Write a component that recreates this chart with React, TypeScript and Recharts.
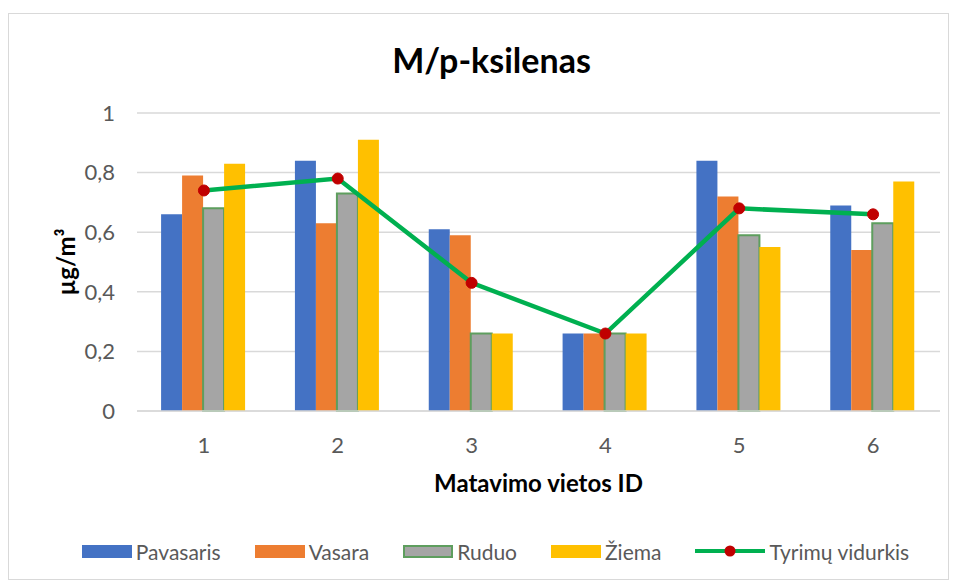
import React from 'react';
import { ComposedChart, Bar, Line, XAxis, YAxis, CartesianGrid, Legend } from 'recharts';

// Matavimo vietos ID
const sites = ['1', '2', '3', '4', '5', '6'];

// Seasonal concentrations, µg/m³
const pavasaris = [0.66, 0.84, 0.61, 0.26, 0.84, 0.69];
const vasara = [0.79, 0.63, 0.59, 0.26, 0.72, 0.54];
const ruduo = [0.68, 0.73, 0.26, 0.26, 0.59, 0.63];
const ziema = [0.83, 0.91, 0.26, 0.26, 0.55, 0.77];
const vidurkis = [0.74, 0.78, 0.43, 0.26, 0.68, 0.66];

const yTicks = [0, 0.2, 0.4, 0.6, 0.8, 1];

const data = sites.map((s, i) => ({
  site: s,
  pavasaris: pavasaris[i],
  vasara: vasara[i],
  ruduo: ruduo[i],
  ziema: ziema[i],
  vidurkis: vidurkis[i],
}));

const FONT = 'Lato, "Noto Sans", sans-serif';
const TEXT = '#595959';

const legendItems = [
  { name: 'Pavasaris', color: '#4472C4', kind: 'bar' },
  { name: 'Vasara', color: '#ED7D31', kind: 'bar' },
  { name: 'Ruduo', color: '#A5A5A5', kind: 'bar', border: '#5E9E5E' },
  { name: 'Žiema', color: '#FFC000', kind: 'bar' },
  { name: 'Tyrimų vidurkis', color: '#00B050', kind: 'line' },
];

const LegendContent = () => (
  <div style={{ height: 30, display: 'flex', alignItems: 'center', justifyContent: 'center', gap: 34, paddingLeft: 22, fontFamily: FONT, fontSize: 21, color: TEXT }}>
    {legendItems.map(it => (
      <div key={it.name} style={{ display: 'flex', alignItems: 'center', gap: 4 }}>
        {it.kind === 'bar' ? (
          <div style={{ width: 50, height: 13, background: it.color, boxSizing: 'border-box', border: it.border ? `2px solid ${it.border}` : 'none' }} />
        ) : (
          <svg width={70} height={14}>
            <line x1={0} y1={7} x2={70} y2={7} stroke={it.color} strokeWidth={4} />
            <circle cx={35} cy={7} r={5.5} fill="#C00000" />
          </svg>
        )}
        <span>{it.name}</span>
      </div>
    ))}
  </div>
);

const fmt = (v: number) => String(v).replace('.', ',');

export default function App() {
  return (
    <div style={{ position: 'relative', marginTop: 5, width: 941, height: 567, border: '1px solid #d9d9d9', boxSizing: 'border-box', background: '#fff' }}>
      <div style={{ position: 'absolute', top: 25, left: 0, width: '100%', paddingLeft: 26, boxSizing: 'border-box', textAlign: 'center', fontFamily: FONT, fontWeight: 700, fontSize: 34, color: '#000' }}>
        M/p-ksilenas
      </div>
      <ComposedChart
        width={939}
        height={565}
        data={data}
        margin={{ top: 99, right: 8, left: 20, bottom: 13 }}
        barCategoryGap="18%"
        barGap={0}
      >
        <CartesianGrid vertical={false} stroke="#d9d9d9" strokeWidth={1.5} />
        <XAxis
          dataKey="site"
          height={125}
          tickLine={false}
          tickSize={0}
          tickMargin={26}
          axisLine={{ stroke: '#d9d9d9', strokeWidth: 1.5 }}
          tick={{ fill: TEXT, fontSize: 22, fontFamily: FONT }}
          label={{ value: 'Matavimo vietos ID', position: 'insideTop', offset: 64, style: { fill: '#000', fontSize: 24, fontWeight: 700, fontFamily: FONT } }}
        />
        <YAxis
          width={108}
          domain={[0, 1]}
          ticks={yTicks}
          tickFormatter={fmt}
          axisLine={false}
          tickLine={false}
          tickSize={0}
          tickMargin={22}
          tick={{ fill: TEXT, fontSize: 22, fontFamily: FONT }}
          label={{ value: 'µg/m³', angle: -90, position: 'insideLeft', offset: 37, style: { textAnchor: 'middle', fill: '#000', fontSize: 24, fontWeight: 700, fontFamily: FONT } }}
        />
        <Legend verticalAlign="bottom" height={30} content={<LegendContent />} />
        <Bar dataKey="pavasaris" name="Pavasaris" fill="#4472C4" isAnimationActive={false} />
        <Bar dataKey="vasara" name="Vasara" fill="#ED7D31" isAnimationActive={false} />
        <Bar dataKey="ruduo" name="Ruduo" fill="#A5A5A5" stroke="#5E9E5E" strokeWidth={2} isAnimationActive={false} />
        <Bar dataKey="ziema" name="Žiema" fill="#FFC000" isAnimationActive={false} />
        <Line
          dataKey="vidurkis"
          name="Tyrimų vidurkis"
          type="linear"
          stroke="#00B050"
          strokeWidth={4.5}
          dot={{ r: 5.5, fill: '#C00000', stroke: '#C00000', strokeWidth: 1 }}
          isAnimationActive={false}
        />
      </ComposedChart>
    </div>
  );
}
